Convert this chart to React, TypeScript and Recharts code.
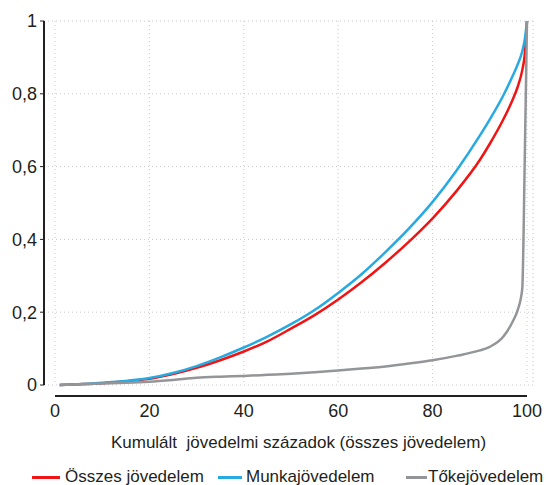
import { CartesianGrid, Line, LineChart, ReferenceLine, XAxis, YAxis } from 'recharts';

// kumulált jövedelmi századok
const percentiles = [1, 5, 10, 15, 20, 25, 30, 35, 40, 45, 50, 55, 60, 65, 70, 75, 80, 85, 90, 92, 95, 97, 98, 99, 99.5, 100];

const osszes = [0, 0.002, 0.005, 0.01, 0.017, 0.03, 0.047, 0.068, 0.092, 0.12, 0.155, 0.192, 0.235, 0.283, 0.336, 0.394, 0.458, 0.532, 0.618, 0.66, 0.73, 0.785, 0.818, 0.865, 0.905, 1];
const munka = [0, 0.002, 0.006, 0.011, 0.019, 0.033, 0.052, 0.076, 0.103, 0.133, 0.167, 0.206, 0.253, 0.305, 0.365, 0.43, 0.503, 0.588, 0.685, 0.727, 0.796, 0.85, 0.88, 0.917, 0.947, 1];
const toke = [0, 0.002, 0.004, 0.006, 0.009, 0.014, 0.02, 0.023, 0.025, 0.028, 0.031, 0.035, 0.04, 0.045, 0.051, 0.059, 0.068, 0.08, 0.095, 0.104, 0.133, 0.175, 0.205, 0.265, 0.6, 1];

const xTicks = [0, 20, 40, 60, 80, 100];
const yTicks = [0, 0.2, 0.4, 0.6, 0.8, 1];

const seriesNames = ['Összes jövedelem', 'Munkajövedelem', 'Tőkejövedelem'];
const xLabel = 'Kumulált\u00A0 jövedelmi századok (összes jövedelem)';

const rows = percentiles.map((p, i) => ({ p, osszes: osszes[i], munka: munka[i], toke: toke[i] }));

const FONT = '"Liberation Sans", Arial, sans-serif';
const INK = '#231f20';
const COLORS = ['#f01414', '#27aae1', '#939598'];

// legend item positions (px)
const legendPos = [
  { line: 32, width: 28, text: 65 },
  { line: 218, width: 24, text: 246 },
  { line: 406, width: 21, text: 428 },
];

export default function App() {
  return (
    <div style={{ position: 'absolute', left: 0, top: 0, width: 548, height: 485, background: '#fff' }}>
      <LineChart width={548} height={460} data={rows} margin={{ top: 21, right: 15, bottom: 0, left: 0 }}>
        <CartesianGrid stroke="#c8c8c8" strokeDasharray="1 3" />
        <XAxis
          dataKey="p"
          type="number"
          domain={[0, 100]}
          ticks={xTicks}
          padding={{ left: 11, right: 6 }}
          axisLine={false}
          tickLine={false}
          tickSize={0}
          tickMargin={19}
          height={75}
          tick={{ fontFamily: FONT, fontSize: 18, fill: INK }}
          label={{ value: xLabel, position: 'insideBottom', offset: 12, dx: 10, fontFamily: FONT, fontSize: 17, fill: INK }}
        />
        <YAxis
          type="number"
          domain={[0, 1]}
          ticks={yTicks}
          width={44}
          axisLine={{ stroke: INK, strokeWidth: 2 }}
          tickLine={{ stroke: INK }}
          tickSize={4}
          tickMargin={3}
          tickFormatter={(v: number) => String(v).replace('.', ',')}
          tick={{ fontFamily: FONT, fontSize: 18, fill: INK }}
        />
        <ReferenceLine
          segment={[{ x: 0, y: -0.03 }, { x: 100, y: -0.03 }]}
          stroke={INK}
          strokeWidth={2}
          ifOverflow="visible"
        />
        <Line type="monotone" dataKey="osszes" name={seriesNames[0]} stroke={COLORS[0]} strokeWidth={2.5} dot={false} isAnimationActive={false} />
        <Line type="monotone" dataKey="munka" name={seriesNames[1]} stroke={COLORS[1]} strokeWidth={2.5} dot={false} isAnimationActive={false} />
        <Line type="monotone" dataKey="toke" name={seriesNames[2]} stroke={COLORS[2]} strokeWidth={2.5} dot={false} isAnimationActive={false} />
      </LineChart>
      {seriesNames.map((name, i) => (
        <div key={name}>
          <div
            style={{ position: 'absolute', left: legendPos[i].line, top: 476, width: legendPos[i].width, height: 3, background: COLORS[i] }}
          />
          <div
            style={{ position: 'absolute', left: legendPos[i].text, top: 468, fontFamily: FONT, fontSize: 17, lineHeight: '17px', color: INK, whiteSpace: 'nowrap' }}
          >
            {name}
          </div>
        </div>
      ))}
    </div>
  );
}
